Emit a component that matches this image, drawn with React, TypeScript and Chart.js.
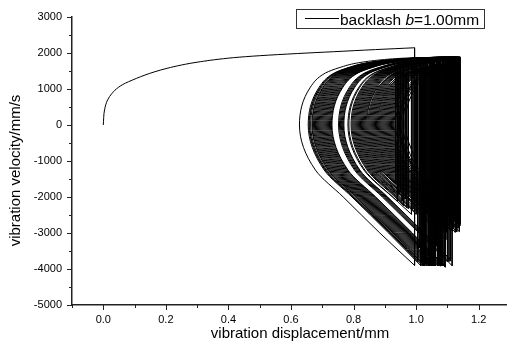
import React, { useEffect, useRef } from 'react';
import { Chart, registerables } from 'chart.js';

Chart.register(...registerables);

// ---- axis ticks ----
const xMajorTicks = [0, 0.2, 0.4, 0.6, 0.8, 1.0, 1.2];
const xMinorTicks = [-0.1, 0.1, 0.3, 0.5, 0.7, 0.9, 1.1, 1.3];
const yMajorTicks = [-5000, -4000, -3000, -2000, -1000, 0, 1000, 2000, 3000];
const yMinorTicks = [-4500, -3500, -2500, -1500, -500, 500, 1500, 2500];

// ---- initial transient (displacement mm, velocity mm/s) ----
const initialDisplacement = [0, 0.004, 0.014, 0.028, 0.049, 0.08, 0.204, 0.31, 0.416, 0.5, 0.62, 0.736, 0.87, 0.995];
const initialVelocity = [0, 420, 700, 880, 1050, 1200, 1575, 1758, 1870, 1925, 1985, 2036, 2095, 2145];

// ---- branches between impacts: flat [x, v, x, v, ...] ----
const loops: number[][] = [
  [0.995, -3900, 0.884, -3000, 0.767, -2000, 0.678, -1250, 0.627, 0, 0.662, 1050, 0.71, 1444, 0.757, 1600, 0.81, 1720, 0.877, 1800, 0.947, 1850, 1.015, 1876],
  [1.015, -3910, 0.912, -3000, 0.795, -2000, 0.706, -1250, 0.655, 0, 0.69, 1050, 0.738, 1444, 0.785, 1600, 0.838, 1720, 0.905, 1800, 0.975, 1850, 1.055, 1880, 1.12, 1894],
  [1.12, -2830, 1.022, -2000, 0.933, -1250, 0.882, 0, 0.917, 1050, 0.965, 1444, 1.02, 1616],
  [1.02, -3910, 0.917, -3000, 0.8, -2000, 0.711, -1250, 0.66, 0, 0.695, 1050, 0.743, 1444, 0.79, 1600, 0.843, 1720, 0.91, 1800, 0.98, 1850, 1.06, 1880, 1.135, 1895],
  [1.135, -2860, 1.034, -2000, 0.945, -1250, 0.894, 0, 0.929, 1050, 0.977, 1444, 1.027, 1605],
  [1.027, -3910, 0.924, -3000, 0.807, -2000, 0.718, -1250, 0.667, 0, 0.702, 1050, 0.75, 1444, 0.797, 1600, 0.85, 1720, 0.917, 1800, 0.987, 1850, 1.067, 1880, 1.13, 1894],
  [1.13, -2970, 1.016, -2000, 0.927, -1250, 0.876, 0, 0.911, 1050, 0.959, 1444, 1.006, 1600, 1.032, 1660],
  [1.032, -3910, 0.929, -3000, 0.812, -2000, 0.723, -1250, 0.672, 0, 0.707, 1050, 0.755, 1444, 0.802, 1600, 0.855, 1720, 0.922, 1800, 0.992, 1850, 1.072, 1880, 1.14, 1895],
  [1.14, -2800, 1.046, -2000, 0.957, -1250, 0.906, 0, 0.941, 1050, 0.989, 1444, 1.038, 1603],
  [1.038, -3910, 0.935, -3000, 0.818, -2000, 0.729, -1250, 0.678, 0, 0.713, 1050, 0.761, 1444, 0.808, 1600, 0.861, 1720, 0.928, 1800, 0.998, 1850, 1.078, 1880, 1.125, 1891],
  [1.125, -2980, 1.01, -2000, 0.921, -1250, 0.87, 0, 0.905, 1050, 0.953, 1444, 1.0, 1600, 1.044, 1700],
  [1.044, -3910, 0.941, -3000, 0.824, -2000, 0.735, -1250, 0.684, 0, 0.719, 1050, 0.767, 1444, 0.814, 1600, 0.867, 1720, 0.94, 1805],
  [0.94, -2120, 0.833, -1250, 0.782, 0, 0.817, 1050, 0.865, 1444, 0.912, 1600, 0.965, 1720, 1.05, 1812],
  [1.05, -3910, 0.947, -3000, 0.83, -2000, 0.741, -1250, 0.69, 0, 0.725, 1050, 0.773, 1444, 0.82, 1600, 0.873, 1720, 0.94, 1800, 1.01, 1850, 1.09, 1880, 1.115, 1886],
  [1.115, -2940, 1.004, -2000, 0.915, -1250, 0.864, 0, 0.899, 1050, 0.947, 1444, 0.994, 1600, 1.056, 1730],
  [1.056, -3910, 0.953, -3000, 0.836, -2000, 0.747, -1250, 0.696, 0, 0.731, 1050, 0.779, 1444, 0.826, 1600, 0.879, 1720, 0.946, 1800, 1.016, 1850, 1.096, 1880, 1.13, 1888],
  [1.13, -2870, 1.028, -2000, 0.939, -1250, 0.888, 0, 0.923, 1050, 0.971, 1444, 1.018, 1600, 1.062, 1700],
  [1.062, -3910, 0.959, -3000, 0.842, -2000, 0.753, -1250, 0.702, 0, 0.737, 1050, 0.785, 1444, 0.832, 1600, 0.885, 1720, 0.96, 1807],
  [0.96, -2240, 0.932, -2000, 0.843, -1250, 0.792, 0, 0.827, 1050, 0.875, 1444, 0.922, 1600, 0.975, 1720, 1.042, 1800, 1.068, 1826],
  [1.068, -3910, 0.965, -3000, 0.848, -2000, 0.759, -1250, 0.708, 0, 0.743, 1050, 0.791, 1444, 0.838, 1600, 0.891, 1720, 0.958, 1800, 1.028, 1850, 1.12, 1883],
  [1.12, -2680, 1.04, -2000, 0.951, -1250, 0.9, 0, 0.935, 1050, 0.983, 1444, 1.03, 1600, 1.074, 1700],
  [1.074, -3910, 0.971, -3000, 0.854, -2000, 0.765, -1250, 0.714, 0, 0.749, 1050, 0.797, 1444, 0.844, 1600, 0.897, 1720, 0.964, 1800, 1.034, 1850, 1.114, 1880, 1.14, 1886],
  [1.14, -2750, 1.052, -2000, 0.963, -1250, 0.912, 0, 0.947, 1050, 0.995, 1444, 1.042, 1600, 1.08, 1690],
  [1.08, -3910, 0.977, -3000, 0.86, -2000, 0.771, -1250, 0.72, 0, 0.755, 1050, 0.803, 1444, 0.85, 1600, 0.903, 1720, 0.975, 1804],
  [0.975, -2320, 0.938, -2000, 0.849, -1250, 0.798, 0, 0.833, 1050, 0.881, 1444, 0.928, 1600, 0.981, 1720, 1.048, 1800, 1.086, 1834],
  [1.086, -3910, 0.983, -3000, 0.866, -2000, 0.777, -1250, 0.726, 0, 0.761, 1050, 0.809, 1444, 0.856, 1600, 0.909, 1720, 0.976, 1800, 1.046, 1850, 1.125, 1880],
  [1.125, -2570, 1.058, -2000, 0.969, -1250, 0.918, 0, 0.953, 1050, 1.001, 1444, 1.048, 1600, 1.091, 1698],
  [1.091, -3910, 0.988, -3000, 0.871, -2000, 0.782, -1250, 0.731, 0, 0.766, 1050, 0.814, 1444, 0.861, 1600, 0.914, 1720, 0.981, 1800, 1.051, 1850, 1.135, 1881],
  [1.135, -2600, 1.064, -2000, 0.975, -1250, 0.924, 0, 0.959, 1050, 1.007, 1444, 1.054, 1600, 1.1, 1705],
  [1.1, -3800, 1.009, -3000, 0.892, -2000, 0.803, -1250, 0.752, 0, 0.787, 1050, 0.835, 1444, 0.882, 1600, 0.935, 1720, 1.0, 1797],
  [1.0, -2480, 0.944, -2000, 0.855, -1250, 0.804, 0, 0.839, 1050, 0.887, 1444, 0.934, 1600, 0.987, 1720, 1.054, 1800, 1.105, 1840],
  [1.105, -3790, 1.015, -3000, 0.898, -2000, 0.809, -1250, 0.758, 0, 0.793, 1050, 0.841, 1444, 0.888, 1600, 0.941, 1720, 1.008, 1800, 1.078, 1850, 1.11, 1862],
  [1.11, -3780, 1.021, -3000, 0.904, -2000, 0.815, -1250, 0.764, 0, 0.799, 1050, 0.847, 1444, 0.894, 1600, 0.947, 1720, 1.014, 1800, 1.084, 1850, 1.13, 1867],
  [1.13, -2510, 1.07, -2000, 0.981, -1250, 0.93, 0, 0.965, 1050, 1.013, 1444, 1.06, 1600, 1.11, 1715],
  [1.11, -3740, 1.026, -3000, 0.909, -2000, 0.82, -1250, 0.769, 0, 0.804, 1050, 0.852, 1444, 0.899, 1600, 0.952, 1720, 0.99, 1763],
  [0.99, -2340, 0.95, -2000, 0.861, -1250, 0.81, 0, 0.845, 1050, 0.893, 1444, 0.94, 1600, 0.993, 1720, 1.06, 1800, 1.095, 1832],
  [1.095, -3190, 1.073, -3000, 0.956, -2000, 0.867, -1250, 0.816, 0, 0.851, 1050, 0.899, 1444, 0.946, 1600, 0.999, 1720, 1.065, 1798],
  [1.065, -2880, 0.962, -2000, 0.873, -1250, 0.822, 0, 0.857, 1050, 0.905, 1444, 0.952, 1600, 1.005, 1720, 1.085, 1811],
  [1.085, -3000, 0.968, -2000, 0.879, -1250, 0.828, 0, 0.863, 1050, 0.911, 1444, 0.958, 1600, 1.011, 1720, 1.045, 1758],
  [1.045, -2600, 0.974, -2000, 0.885, -1250, 0.834, 0, 0.869, 1050, 0.917, 1444, 0.964, 1600, 1.017, 1720, 1.075, 1789],
  [1.075, -2800, 0.98, -2000, 0.891, -1250, 0.84, 0, 0.875, 1050, 0.923, 1444, 0.97, 1600, 1.023, 1720, 1.055, 1755],
  [1.055, -2590, 0.986, -2000, 0.897, -1250, 0.846, 0, 0.881, 1050, 0.929, 1444, 0.976, 1600, 1.029, 1720, 1.1, 1803],
  [1.1, -2910, 0.992, -2000, 0.903, -1250, 0.852, 0, 0.887, 1050, 0.935, 1444, 0.982, 1600, 1.035, 1720],
  [1.035, -2320, 0.998, -2000, 0.909, -1250, 0.858, 0, 0.893, 1050, 0.941, 1444, 0.988, 1600, 1.041, 1720, 1.115, 1806],
  [1.115, -3910, 1.012, -3000, 0.895, -2000, 0.806, -1250, 0.755, 0, 0.79, 1050, 0.838, 1444, 0.885, 1600, 0.938, 1720, 0.985, 1775],
  [0.985, -2480, 0.925, -2000, 0.836, -1250, 0.785, 0, 0.82, 1050, 0.868, 1444, 0.915, 1600, 0.968, 1720, 1.035, 1800, 1.093, 1842],
  [1.093, -3950, 0.986, -3000, 0.869, -2000, 0.78, -1250, 0.729, 0, 0.764, 1050, 0.812, 1444, 0.859, 1600, 0.912, 1720, 0.979, 1800, 1.049, 1850, 1.138, 1883],
  [1.138, -2960, 1.025, -2000, 0.936, -1250, 0.885, 0, 0.92, 1050, 0.968, 1444, 1.005, 1560],
  [1.005, -3790, 0.915, -3000, 0.798, -2000, 0.709, -1250, 0.658, 0, 0.693, 1050, 0.741, 1444, 0.788, 1600, 0.841, 1720, 0.908, 1800, 0.978, 1850, 1.058, 1880, 1.108, 1891],
  [1.108, -2910, 1.001, -2000, 0.912, -1250, 0.861, 0, 0.896, 1050, 0.944, 1444, 0.97, 1530],
  [0.97, -2300, 0.935, -2000, 0.846, -1250, 0.795, 0, 0.83, 1050, 0.878, 1444, 0.925, 1600, 0.978, 1720, 1.045, 1800, 1.078, 1831],
  [1.078, -3920, 0.974, -3000, 0.857, -2000, 0.768, -1250, 0.717, 0, 0.752, 1050, 0.8, 1444, 0.847, 1600, 0.9, 1720, 0.967, 1800, 1.012, 1837],
  [1.012, -2350, 0.971, -2000, 0.882, -1250, 0.831, 0, 0.866, 1050, 0.914, 1444, 0.961, 1600, 1.014, 1720, 1.081, 1800, 1.128, 1838],
  [1.128, -2720, 1.043, -2000, 0.954, -1250, 0.903, 0, 0.938, 1050, 0.986, 1444, 1.041, 1616],
  [1.041, -3910, 0.938, -3000, 0.821, -2000, 0.732, -1250, 0.681, 0, 0.716, 1050, 0.764, 1444, 0.811, 1600, 0.864, 1720, 0.931, 1800, 1.001, 1850, 1.081, 1880, 1.118, 1889],
  [1.118, -2890, 1.013, -2000, 0.924, -1250, 0.873, 0, 0.908, 1050, 0.955, 1440],
  [0.955, -2120, 0.852, -1250, 0.801, 0, 0.836, 1050, 0.884, 1444, 0.931, 1600, 0.984, 1720, 1.051, 1800, 1.083, 1830],
  [1.083, -3910, 0.98, -3000, 0.863, -2000, 0.774, -1250, 0.723, 0, 0.758, 1050, 0.806, 1444, 0.853, 1600, 0.906, 1720, 0.973, 1800, 1.023, 1840],
  [1.023, -3910, 0.92, -3000, 0.803, -2000, 0.714, -1250, 0.663, 0, 0.698, 1050, 0.746, 1444, 0.793, 1600, 0.846, 1720, 0.913, 1800, 0.983, 1850, 1.063, 1880, 1.098, 1888],
  [1.098, -2770, 1.007, -2000, 0.918, -1250, 0.867, 0, 0.902, 1050, 0.95, 1444, 0.995, 1595],
  [0.995, -2410, 0.947, -2000, 0.858, -1250, 0.807, 0, 0.842, 1050, 0.89, 1444, 0.937, 1600, 0.99, 1720, 1.057, 1800, 1.103, 1838],
  [1.103, -2560, 1.037, -2000, 0.948, -1250, 0.897, 0, 0.932, 1050, 0.98, 1444, 1.027, 1600, 1.047, 1650],
  [1.047, -3910, 0.944, -3000, 0.827, -2000, 0.738, -1250, 0.687, 0, 0.722, 1050, 0.77, 1444, 0.817, 1600, 0.87, 1720, 0.937, 1800, 1.007, 1850, 1.087, 1880, 1.123, 1889],
  [1.123, -2530, 1.061, -2000, 0.972, -1250, 0.921, 0, 0.956, 1050, 1.004, 1444, 1.018, 1490],
  [1.018, -3810, 0.926, -3000, 0.809, -2000, 0.72, -1250, 0.669, 0, 0.704, 1050, 0.752, 1444, 0.799, 1600, 0.852, 1720, 0.919, 1800, 0.989, 1850, 1.069, 1880, 1.089, 1884],
  [1.089, -2850, 0.989, -2000, 0.9, -1250, 0.849, 0, 0.884, 1050, 0.932, 1444, 0.945, 1490],
  [0.945, -1930, 0.864, -1250, 0.813, 0, 0.848, 1050, 0.896, 1444, 0.943, 1600, 0.996, 1720, 1.053, 1788],
  [1.053, -3910, 0.95, -3000, 0.833, -2000, 0.744, -1250, 0.693, 0, 0.728, 1050, 0.776, 1444, 0.823, 1600, 0.876, 1720, 0.943, 1800, 1.013, 1850, 1.093, 1880, 1.133, 1890],
  [1.133, -2660, 1.055, -2000, 0.966, -1250, 0.915, 0, 0.95, 1050, 0.998, 1444, 1.03, 1550],
  [1.03, -3860, 0.932, -3000, 0.815, -2000, 0.726, -1250, 0.675, 0, 0.71, 1050, 0.758, 1444, 0.805, 1600, 0.858, 1720, 0.925, 1800, 0.995, 1850, 1.075, 1880, 1.113, 1889],
  [1.113, -2800, 1.019, -2000, 0.93, -1250, 0.879, 0, 0.914, 1050, 0.965, 1455],
  [0.965, -2050, 0.87, -1250, 0.819, 0, 0.854, 1050, 0.902, 1444, 0.949, 1600, 1.002, 1720, 1.059, 1788],
  [1.059, -3910, 0.956, -3000, 0.839, -2000, 0.75, -1250, 0.699, 0, 0.734, 1050, 0.782, 1444, 0.829, 1600, 0.882, 1720, 0.949, 1800, 1.019, 1850, 1.071, 1869],
  [1.071, -3910, 0.968, -3000, 0.851, -2000, 0.762, -1250, 0.711, 0, 0.746, 1050, 0.794, 1444, 0.841, 1600, 0.894, 1720, 0.95, 1787],
  [0.95, -1870, 0.876, -1250, 0.825, 0, 0.86, 1050, 0.908, 1444, 0.955, 1600, 1.025, 1740],
  [1.025, -3060, 0.901, -2000, 0.812, -1250, 0.761, 0, 0.796, 1050, 0.844, 1444, 0.891, 1600, 0.944, 1720, 1.011, 1800, 1.081, 1850, 1.128, 1867],
  [1.128, -2820, 1.031, -2000, 0.942, -1250, 0.891, 0, 0.926, 1050, 0.974, 1444, 1.01, 1555],
  [1.01, -3420, 0.962, -3000, 0.845, -2000, 0.756, -1250, 0.705, 0, 0.74, 1050, 0.788, 1444, 0.835, 1600, 0.888, 1720, 0.955, 1800, 1.025, 1850, 1.098, 1878],
  [1.098, -2980, 0.983, -2000, 0.894, -1250, 0.843, 0, 0.878, 1050, 0.935, 1475],
  [0.935, -1640, 0.888, -1250, 0.837, 0, 0.872, 1050, 0.92, 1444, 0.967, 1600, 1.02, 1720, 1.065, 1773],
  [1.065, -3360, 1.024, -3000, 0.907, -2000, 0.818, -1250, 0.767, 0, 0.802, 1050, 0.85, 1444, 0.897, 1600, 0.95, 1720, 1.017, 1800, 1.087, 1850, 1.118, 1861],
  [1.118, -2420, 1.067, -2000, 0.978, -1250, 0.927, 0, 0.962, 1050, 1.01, 1444, 1.057, 1600, 1.11, 1720, 1.138, 1750],
  [1.138, -2750, 1.049, -2000, 0.96, -1250, 0.909, 0, 0.944, 1050, 0.992, 1444, 1.039, 1600, 1.088, 1712],
  [1.088, -2790, 0.995, -2000, 0.906, -1250, 0.855, 0, 0.89, 1050, 0.938, 1444, 0.985, 1600, 1.038, 1720, 1.108, 1802],
  [1.108, -2240, 1.08, -2000, 0.991, -1250, 0.94, 0, 0.975, 1050, 1.0, 1260],
  [1.0, -1270, 0.973, -900, 0.946, 0, 0.981, 1050, 1.029, 1444, 1.06, 1545],
  [1.06, -1720, 1.003, -1250, 0.952, 0, 0.987, 1050, 1.035, 1444, 1.082, 1600, 1.12, 1690],
  [1.12, -2380, 1.075, -2000, 0.986, -1250, 0.935, 0, 0.97, 1050, 1.015, 1430],
  [1.015, -1300, 0.985, -900, 0.958, 0, 0.993, 1050, 1.041, 1444, 1.09, 1603],
  [1.09, -2050, 0.995, -1250, 0.944, 0, 0.979, 1050, 1.0, 1230],
  [1.0, -1050, 0.965, 0, 1.0, 1050, 1.048, 1444, 1.095, 1600, 1.135, 1695],
  [1.135, -2400, 1.088, -2000, 0.999, -1250, 0.948, 0, 0.983, 1050, 1.031, 1444, 1.07, 1565],
];

const legendLabel = ['backlash ', 'b', '=1.00mm'];
const xTitle = 'vibration displacement/mm';
const yTitle = 'vibration velocity/mm/s';

const FONT = '"Liberation Sans", Arial, Helvetica, sans-serif';

type P = { x: number; y: number | null };

function toPoints(flat: number[]): P[] {
  const pts: P[] = [];
  for (let i = 0; i + 1 < flat.length; i += 2) pts.push({ x: flat[i], y: flat[i + 1] });
  return pts;
}

const decorPlugin = {
  id: 'decor',
  afterDraw(chart: any) {
    const ctx: CanvasRenderingContext2D = chart.ctx;
    const xs = chart.scales.x;
    const ys = chart.scales.y;
    const { left, bottom } = chart.chartArea;
    ctx.save();
    ctx.strokeStyle = '#222';
    ctx.lineWidth = 1;
    ctx.beginPath();
    const yl = Math.round(left);
    for (const v of yMajorTicks) {
      const py = Math.round(ys.getPixelForValue(v)) + 0.5;
      ctx.moveTo(yl - 5, py);
      ctx.lineTo(yl, py);
    }
    for (const v of yMinorTicks) {
      const py = Math.round(ys.getPixelForValue(v)) + 0.5;
      ctx.moveTo(yl - 3, py);
      ctx.lineTo(yl, py);
    }
    const xb = Math.round(bottom);
    for (const v of xMajorTicks) {
      const px = Math.round(xs.getPixelForValue(v)) + 0.5;
      ctx.moveTo(px, xb);
      ctx.lineTo(px, xb + 5);
    }
    for (const v of xMinorTicks) {
      const px = Math.round(xs.getPixelForValue(v)) + 0.5;
      ctx.moveTo(px, xb);
      ctx.lineTo(px, xb + 3);
    }
    ctx.stroke();

    // axis titles
    ctx.fillStyle = '#000';
    ctx.font = `15px ${FONT}`;
    ctx.textAlign = 'center';
    ctx.textBaseline = 'alphabetic';
    ctx.fillText(xTitle, 300, 338);
    ctx.save();
    ctx.translate(20, 170.5);
    ctx.rotate(-Math.PI / 2);
    ctx.fillText(yTitle, 0, 0);
    ctx.restore();

    // legend
    ctx.strokeStyle = '#333';
    ctx.lineWidth = 1;
    ctx.strokeRect(296.5, 9.5, 188, 19);
    ctx.strokeStyle = '#000';
    ctx.beginPath();
    ctx.moveTo(305, 18.5);
    ctx.lineTo(339, 18.5);
    ctx.stroke();
    ctx.textAlign = 'left';
    let tx = 340;
    const ty = 25;
    ctx.font = `15.5px ${FONT}`;
    ctx.fillText(legendLabel[0], tx, ty);
    tx += ctx.measureText(legendLabel[0]).width;
    ctx.font = `italic 15.5px ${FONT}`;
    ctx.fillText(legendLabel[1], tx, ty);
    tx += ctx.measureText(legendLabel[1]).width;
    ctx.font = `15.5px ${FONT}`;
    ctx.fillText(legendLabel[2], tx, ty);
    ctx.restore();
  },
};

export default function App() {
  const ref = useRef<HTMLCanvasElement>(null);
  useEffect(() => {
    if (!ref.current) return;
    const lineStyle = {
      borderColor: '#000',
      borderWidth: 1,
      pointRadius: 0,
      fill: false,
    };
    const datasets: any[] = [];
    // velocity rises monotonically along every branch, so interpolate along y
    datasets.push({
      ...lineStyle,
      data: initialDisplacement.map((x, i) => ({ x, y: initialVelocity[i] })),
      indexAxis: 'y',
      cubicInterpolationMode: 'monotone',
    });
    // impact (vertical) segments between consecutive branches
    const impacts: P[] = [];
    let prevEnd: P = { x: initialDisplacement[initialDisplacement.length - 1], y: initialVelocity[initialVelocity.length - 1] };
    for (const lp of loops) {
      const pts = toPoints(lp);
      impacts.push({ x: pts[0].x, y: prevEnd.y }, { x: pts[0].x, y: pts[0].y }, { x: pts[0].x, y: null });
      prevEnd = pts[pts.length - 1];
      datasets.push({ ...lineStyle, data: pts, indexAxis: 'y', cubicInterpolationMode: 'monotone' });
    }
    datasets.push({ ...lineStyle, data: impacts, tension: 0, spanGaps: false });

    const chart = new Chart(ref.current, {
      type: 'line',
      data: { datasets },
      options: {
        animation: false,
        responsive: false,
        events: [],
        layout: { padding: { top: 17, right: 10, left: 0, bottom: 0 } },
        plugins: { legend: { display: false }, tooltip: { enabled: false } },
        scales: {
          x: {
            type: 'linear',
            min: -0.1,
            max: 1.3,
            afterBuildTicks: (s: any) => { s.ticks = xMajorTicks.map((v) => ({ value: v })); },
            afterFit: (s: any) => { s.height = 38; },
            grid: { display: false, drawTicks: false },
            border: { display: true, color: '#222', width: 1.5 },
            ticks: {
              color: '#000',
              padding: 8,
              maxRotation: 0,
              font: { family: FONT, size: 11 },
              callback: (v: any) => Number(v).toFixed(1),
            },
          },
          y: {
            type: 'linear',
            min: -5000,
            max: 3000,
            afterBuildTicks: (s: any) => { s.ticks = yMajorTicks.map((v) => ({ value: v })); },
            afterFit: (s: any) => { s.width = 72; },
            grid: { display: false, drawTicks: false },
            border: { display: true, color: '#222', width: 1.5 },
            ticks: {
              color: '#000',
              padding: 10,
              font: { family: FONT, size: 11 },
              callback: (v: any) => String(v),
            },
          },
        },
      },
      plugins: [decorPlugin],
    });
    return () => chart.destroy();
  }, []);

  return (
    <div style={{ position: 'fixed', left: 0, top: 0, width: 507, height: 343, overflow: 'hidden', background: '#fff' }}>
      <canvas ref={ref} width={520} height={343} style={{ display: 'block' }} />
    </div>
  );
}
